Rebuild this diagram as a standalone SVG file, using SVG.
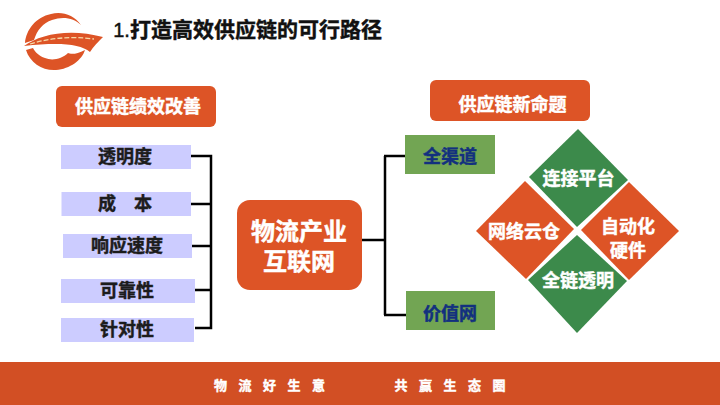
<svg xmlns="http://www.w3.org/2000/svg" width="720" height="405" viewBox="0 0 720 405">
<style>
text{font-family:"Noto Sans CJK SC","Liberation Sans",sans-serif;font-weight:700;text-anchor:middle;stroke-width:.45px}
.or{fill:#DD5426}.gr{fill:#3C8A4B}.lav{fill:#CCCCFF}.lg{fill:#72A553}
.w{fill:#FFFFFF;stroke:#FFFFFF}.k{fill:#1C1C1C;stroke:#1C1C1C;font-size:18px}.n{fill:#12307F;stroke:#12307F;font-size:18px}.h{fill:#FFFFFF;stroke:#FFFFFF;font-size:18px}
.f{fill:#FFFFFF;stroke:#FFFFFF;font-size:13px;letter-spacing:11.500px;text-anchor:start}
.c{fill:none;stroke:#000000;stroke-width:2.5}
</style>
<rect width="720" height="405" fill="#FFFFFF"/>
<g id="logo">
<path class="or" d="M81 25C74 15 62 11 51 14C36 17 26 30 25 43L34 40C37 30 43 23 52 20C63 16 74 18 81 25Z"/>
<path class="or" d="M26 50C30 63 43 71 56 70C70 69 82 60 85 50C76 55 70 54 68 53C62 59 52 61 45 58C39 56 35 52 33 48Z"/>
<path class="or" d="M24 46C40 34 70 28 103 37C98 42 93 47 90 52C80 44 60 42 24 46Z"/>
<path d="M30 44C50 38 70 36 94 39" fill="none" stroke="#F6D9A8" stroke-width="1.3" stroke-dasharray="5 2"/>
</g>
<g id="title">
<text x="121.500" y="37" style="font-family:'Liberation Sans',sans-serif;font-weight:400;font-size:20px;fill:#111;stroke:#111">1.</text>
<text x="256" y="37" font-size="21" fill="#111" stroke="#111">打造高效供应链的可行路径</text>
</g>
<g id="connectors">
<path class="c" d="M191 156H211V328H195M191 204H211M192 246H211M195 290H211"/>
<path class="c" d="M362 240H385M385 156V315M384 156H405M384 315H406"/>
</g>
<g id="header-left"><rect class="or" x="56" y="86" width="160" height="41" rx="6"/><text class="h" x="138" y="113">供应链绩效改善</text></g>
<g id="header-right"><rect class="or" x="430" y="80" width="160" height="41" rx="6"/><text class="h" x="512.500" y="111">供应链新命题</text></g>
<g id="item-1"><rect class="lav" x="61" y="145" width="130" height="24"/><text class="k" x="125" y="163">透明度</text></g>
<g id="item-2"><rect class="lav" x="61.500" y="192" width="129.500" height="24"/><text class="k" x="125" y="210">成　本</text></g>
<g id="item-3"><rect class="lav" x="63" y="234" width="129" height="24"/><text class="k" x="127" y="252">响应速度</text></g>
<g id="item-4"><rect class="lav" x="61" y="279" width="134" height="24"/><text class="k" x="127" y="297">可靠性</text></g>
<g id="item-5"><rect class="lav" x="61" y="318" width="133" height="24"/><text class="k" x="127" y="336">针对性</text></g>
<g id="center"><rect class="or" x="237" y="200" width="125" height="90" rx="13"/>
<text class="w" font-size="24"><tspan x="299" y="240">物流产业</tspan><tspan x="299" y="270">互联网</tspan></text></g>
<g id="channel"><rect class="lg" x="405" y="135" width="90" height="39"/><text class="n" x="450" y="163">全渠道</text></g>
<g id="value"><rect class="lg" x="406" y="291" width="89" height="39"/><text class="n" x="450" y="320">价值网</text></g>
<g id="d-top"><polygon class="gr" points="578,129 628,180 577,227 529,177"/><text class="h" x="578.500" y="185">连接平台</text></g>
<g id="d-left"><polygon class="or" points="525,181 574,229 526,279 476,231"/><text class="h" x="524" y="238">网络云仓</text></g>
<g id="d-right"><polygon class="or" points="629,182 679,231 629,280 581,230"/><text class="h" font-size="18"><tspan x="628" y="233">自动化</tspan><tspan x="628" y="257">硬件</tspan></text></g>
<g id="d-bottom"><polygon class="gr" points="577,235 627,281 577,333 528,280"/><text class="h" x="578" y="287">全链透明</text></g>
<g id="footer"><rect x="0" y="362" width="720" height="43" fill="#D24F24"/>
<text class="f" x="214" y="390">物流好生意</text><text class="f" x="394.500" y="390">共赢生态圈</text></g>
</svg>
